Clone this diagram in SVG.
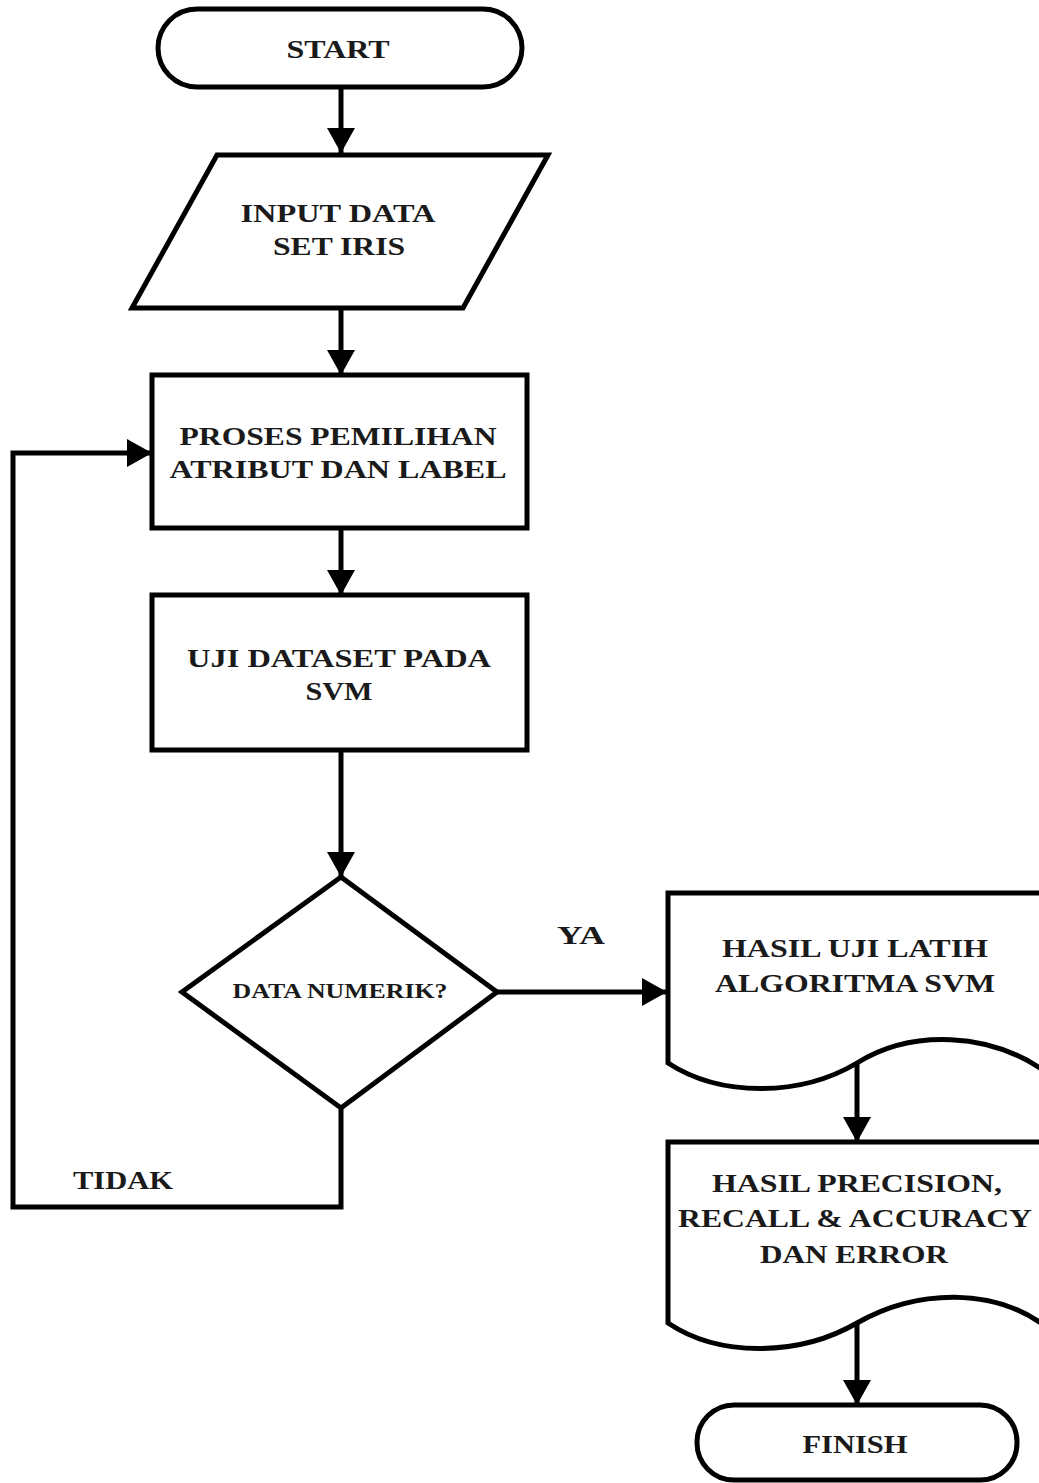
<svg xmlns="http://www.w3.org/2000/svg" width="1039" height="1483" viewBox="0 0 1039 1483">
<style>
.s{fill:#fff;stroke:#000;stroke-width:5;stroke-linejoin:miter}
.c{fill:none;stroke:#000;stroke-width:5}
.t{font-family:"Liberation Serif","Times New Roman",serif;font-weight:bold;font-size:26px;fill:#1a1a1a;text-anchor:middle}
.sm{font-size:21px}
</style>
<defs>
<marker id="ah" viewBox="0 0 25 28" refX="25" refY="14" markerWidth="25" markerHeight="28" markerUnits="userSpaceOnUse" orient="auto">
<path d="M0,0 L25,14 L0,28 z" fill="#000"/>
</marker>
</defs>
<rect width="1039" height="1483" fill="#fff"/>
<g id="connectors">
<line class="c" x1="341" y1="88" x2="341" y2="153" marker-end="url(#ah)"/>
<line class="c" x1="341" y1="308" x2="341" y2="375" marker-end="url(#ah)"/>
<line class="c" x1="341" y1="528" x2="341" y2="595" marker-end="url(#ah)"/>
<line class="c" x1="341" y1="750" x2="341" y2="877" marker-end="url(#ah)"/>
<line class="c" x1="497" y1="992" x2="667" y2="992" marker-end="url(#ah)"/>
<polyline class="c" points="341,1108 341,1207 13,1207 13,453 152,453" marker-end="url(#ah)"/>
<line class="c" x1="857" y1="1064" x2="857" y2="1142" marker-end="url(#ah)"/>
<line class="c" x1="857" y1="1323" x2="857" y2="1405" marker-end="url(#ah)"/>
<text class="t" x="581" y="944" textLength="48" lengthAdjust="spacingAndGlyphs">YA</text>
<text class="t" x="123" y="1189" textLength="100" lengthAdjust="spacingAndGlyphs">TIDAK</text>
</g>
<g id="start">
<rect class="s" x="158" y="9" width="364" height="78" rx="39"/>
<text class="t" x="338" y="58" font-size="29" textLength="103" lengthAdjust="spacingAndGlyphs">START</text>
</g>
<g id="input">
<polygon class="s" points="217,155 548,155 463,308 132,308"/>
<text class="t" x="338" y="222" textLength="195" lengthAdjust="spacingAndGlyphs">INPUT DATA</text>
<text class="t" x="339" y="255" textLength="132" lengthAdjust="spacingAndGlyphs">SET IRIS</text>
</g>
<g id="proses">
<rect class="s" x="152" y="375" width="375" height="153"/>
<text class="t" x="338" y="445" textLength="317" lengthAdjust="spacingAndGlyphs">PROSES PEMILIHAN</text>
<text class="t" x="338" y="478" textLength="337" lengthAdjust="spacingAndGlyphs">ATRIBUT DAN LABEL</text>
</g>
<g id="uji">
<rect class="s" x="152" y="595" width="375" height="155"/>
<text class="t" x="339" y="667" textLength="304" lengthAdjust="spacingAndGlyphs">UJI DATASET PADA</text>
<text class="t" x="339" y="700" textLength="67" lengthAdjust="spacingAndGlyphs">SVM</text>
</g>
<g id="decision">
<polygon class="s" points="341,877 497,992 341,1108 182,992"/>
<text class="t sm" x="340" y="998" textLength="215" lengthAdjust="spacingAndGlyphs">DATA NUMERIK?</text>
</g>
<g id="hasil-uji">
<path class="s" d="M668,1063 L668,893 L1050,893 L1050,1075 C990,1030 910,1030 857,1063 C800,1097 720,1097 668,1063 Z"/>
<text class="t" x="855" y="957" textLength="266" lengthAdjust="spacingAndGlyphs">HASIL UJI LATIH</text>
<text class="t" x="855" y="992" textLength="280" lengthAdjust="spacingAndGlyphs">ALGORITMA SVM</text>
</g>
<g id="hasil-precision">
<path class="s" d="M668,1323 L668,1142 L1050,1142 L1050,1330 C995,1285 915,1290 857,1323 C800,1356 720,1358 668,1323 Z"/>
<text class="t" x="857" y="1192" textLength="290" lengthAdjust="spacingAndGlyphs">HASIL PRECISION,</text>
<text class="t" x="855" y="1227" textLength="354" lengthAdjust="spacingAndGlyphs">RECALL &amp; ACCURACY</text>
<text class="t" x="854" y="1263" textLength="188" lengthAdjust="spacingAndGlyphs">DAN ERROR</text>
</g>
<g id="finish">
<rect class="s" x="697" y="1405" width="320" height="75" rx="37"/>
<text class="t" x="855" y="1453" font-size="28" textLength="105" lengthAdjust="spacingAndGlyphs">FINISH</text>
</g>
</svg>
